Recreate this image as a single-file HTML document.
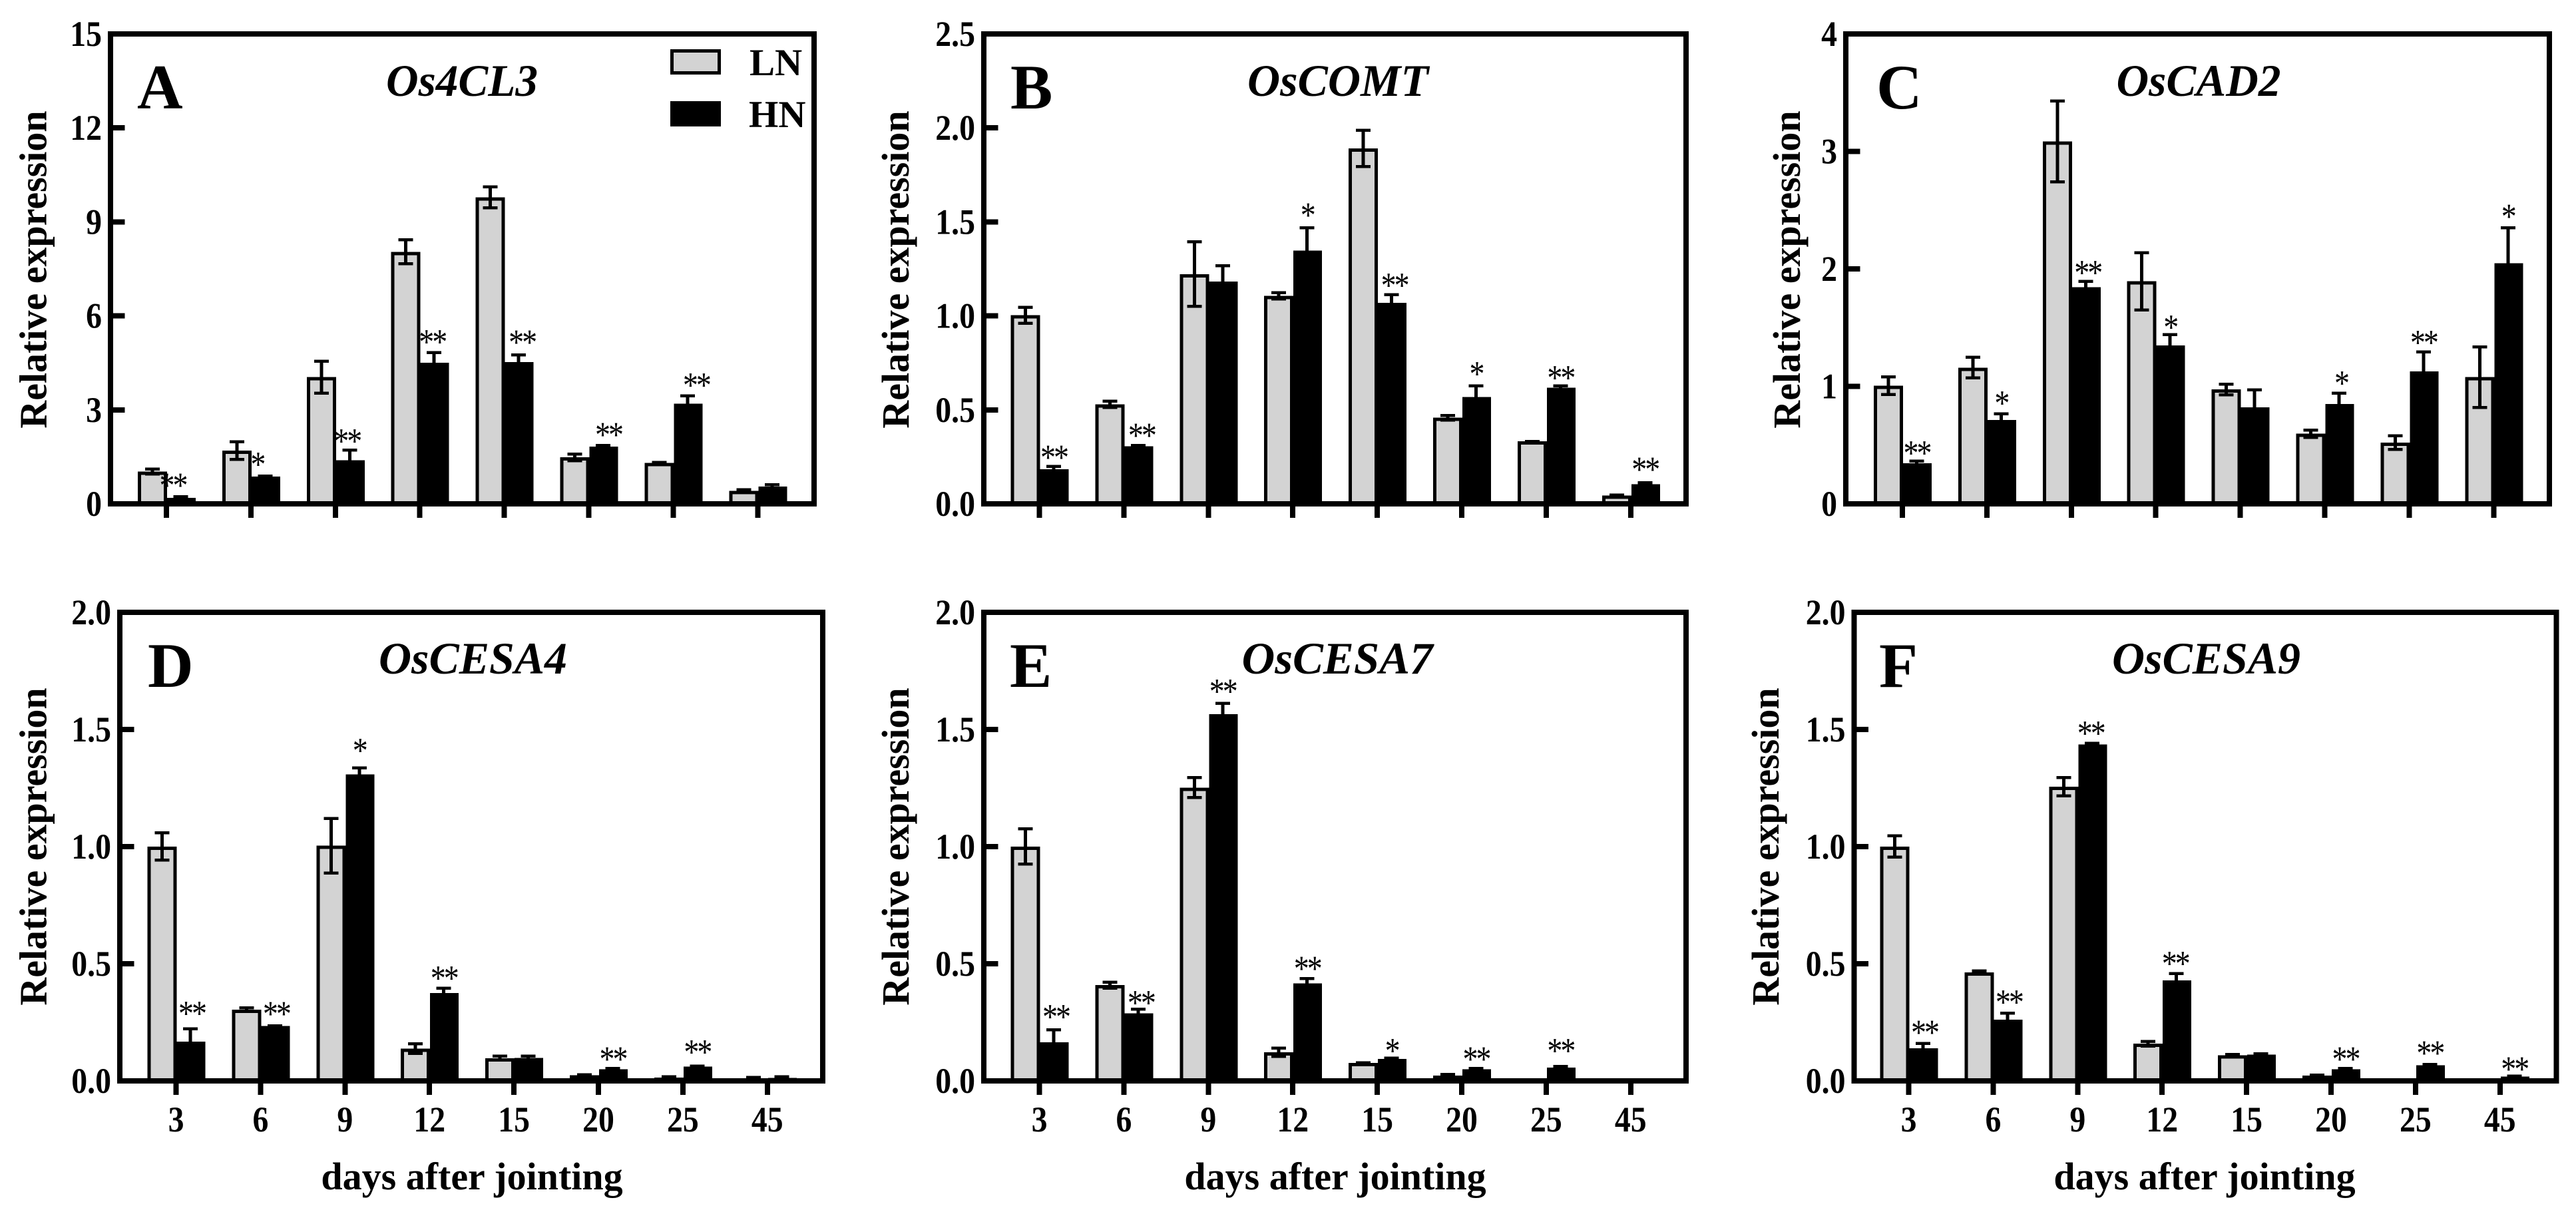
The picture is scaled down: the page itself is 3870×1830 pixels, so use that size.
<!DOCTYPE html>
<html lang="en">
<head>
<meta charset="utf-8">
<title>Relative expression after jointing</title>
<style>
html,body{margin:0;padding:0;background:#fff;}
svg{display:block;}
text{font-family:"Liberation Serif","Times New Roman",serif;fill:#000;}
</style>
</head>
<body>
<svg id="figure" xmlns="http://www.w3.org/2000/svg" width="3870" height="1830" viewBox="0 0 3870 1830"></svg>
<script>
// ---- shared categories and series names
const categories = ['3','6','9','12','15','20','25','45'];
const legendLabels = ['LN','HN'];
const xAxisTitle = 'days after jointing';
const yAxisTitle = 'Relative expression';

// ---- panel A: Os4CL3
const ticksA = ['0','3','6','9','12','15'];
const lnA = [0.99,1.66,4.0,8.0,9.74,1.44,1.26,0.37];
const lnErrA = [0.13,0.33,0.56,0.43,0.38,0.15,0.07,0.01];
const hnA = [0.15,0.83,1.35,4.46,4.48,1.78,3.15,0.51];
const hnErrA = [0.08,0.06,0.37,0.37,0.28,0.09,0.30,0.11];
const sigA = ['**','*','**','**','**','**','**',''];

// ---- panel B: OsCOMT
const ticksB = ['0.0','0.5','1.0','1.5','2.0','2.5'];
const lnB = [0.996,0.522,1.215,1.10,1.884,0.451,0.325,0.037];
const lnErrB = [0.05,0.025,0.18,0.025,0.105,0.02,0.008,0.01];
const hnB = [0.177,0.299,1.175,1.341,1.063,0.561,0.61,0.098];
const hnErrB = [0.023,0.012,0.093,0.129,0.051,0.067,0.018,0.016];
const sigB = ['**','**','','*','**','*','**','**'];

// ---- panel C: OsCAD2
const ticksC = ['0','1','2','3','4'];
const lnC = [0.995,1.148,3.073,1.883,0.963,0.585,0.51,1.067];
const lnErrC = [0.088,0.10,0.357,0.257,0.058,0.043,0.072,0.27];
const hnC = [0.335,0.702,1.834,1.337,0.81,0.839,1.115,2.036];
const hnErrC = [0.03,0.065,0.062,0.104,0.162,0.104,0.179,0.315];
const sigC = ['**','*','**','*','','*','**','*'];

// ---- panel D: OsCESA4
const ticksD = ['0.0','0.5','1.0','1.5','2.0'];
const lnD = [0.995,0.298,0.998,0.132,0.091,0.019,0.008,0.005];
const lnErrD = [0.064,0.014,0.123,0.027,0.015,0.005,0.002,0.002];
const hnD = [0.162,0.229,1.302,0.369,0.093,0.044,0.056,0.007];
const hnErrD = [0.061,0.007,0.035,0.027,0.013,0.003,0.008,0.001];
const sigD = ['**','**','*','**','','**','**',''];

// ---- panel E: OsCESA7
const ticksE = ['0.0','0.5','1.0','1.5','2.0'];
const lnE = [0.995,0.403,1.246,0.116,0.071,0.017,0.003,0.002];
const lnErrE = [0.081,0.019,0.049,0.024,0.007,0.002,0,0];
const hnE = [0.159,0.283,1.56,0.411,0.088,0.044,0.051,0.002];
const hnErrE = [0.06,0.024,0.052,0.027,0.01,0.003,0.001,0];
const sigE = ['**','**','**','**','*','**','**',''];

// ---- panel F: OsCESA9
const ticksF = ['0.0','0.5','1.0','1.5','2.0'];
const lnF = [0.995,0.457,1.25,0.153,0.103,0.017,0.002,0.002];
const lnErrF = [0.052,0.013,0.045,0.016,0.002,0.008,0,0];
const hnF = [0.133,0.256,1.43,0.423,0.106,0.044,0.061,0.013];
const hnErrF = [0.027,0.034,0.012,0.036,0.01,0.003,0.003,0.009];
const sigF = ['**','**','**','**','','**','**','**'];

// ---- layout (kept apart from the data)
const panels = [
 {id:'a',letter:'A',gene:'Os4CL3', ticks:ticksA,yMax:15, ln:lnA,lnErr:lnErrA,hn:hnA,hnErr:hnErrA,sig:sigA,
  left:166,right:1223,top:51,bottom:757,tick0:250,letterX:206,letterY:163,geneX:580,geneW:228,geneY:144,yTitleX:69.5,yTitleY:405,xTitleX:0,
  sigDx:[-12,-12,-4,-3,5,8,13,0],sigGap:[23,23.5,19.5,22.4,25,22,22,0]},
 {id:'b',letter:'B',gene:'OsCOMT', ticks:ticksB,yMax:2.5,ln:lnB,lnErr:lnErrB,hn:hnB,hnErr:hnErrB,sig:sigB,
  left:1478,right:2533,top:51,bottom:757,tick0:1561.5,letterX:1518,letterY:163,geneX:1874,geneW:272,geneY:144,yTitleX:1365,yTitleY:405,xTitleX:0,
  sigDx:[0,5,0,0,4,0,0,0],sigGap:[19.5,21,0,25,20,24,18,26]},
 {id:'c',letter:'C',gene:'OsCAD2', ticks:ticksC,yMax:4,  ln:lnC,lnErr:lnErrC,hn:hnC,hnErr:hnErrC,sig:sigC,
  left:2773,right:3830,top:51,bottom:757,tick0:2858,letterX:2819,letterY:163,geneX:3179.5,geneW:247,geneY:144,yTitleX:2704,yTitleY:405,xTitleX:0,
  sigDx:[0,0,3,0,0,3,0,0],sigGap:[18,22,19,17,0,21,20,23]},
 {id:'d',letter:'D',gene:'OsCESA4',ticks:ticksD,yMax:2,  ln:lnD,lnErr:lnErrD,hn:hnD,hnErr:hnErrD,sig:sigD,
  left:180,right:1236,top:920,bottom:1624,tick0:264.5,letterX:222,letterY:1032,geneX:569,geneW:283,geneY:1012,yTitleX:69.5,yTitleY:1272,xTitleX:709,
  sigDx:[2,2,0,0,0,0,0,0],sigGap:[29,24,32,21,0,22.5,27,0]},
 {id:'e',letter:'E',gene:'OsCESA7',ticks:ticksE,yMax:2,  ln:lnE,lnErr:lnErrE,hn:hnE,hnErr:hnErrE,sig:sigE,
  left:1478,right:2533,top:920,bottom:1624,tick0:1561.5,letterX:1517,letterY:1032,geneX:1865.5,geneW:287,geneY:1012,yTitleX:1365,yTitleY:1272,xTitleX:2006,
  sigDx:[3,4,0,0,0,0,0,0],sigGap:[25.5,15.5,24,21,17,22.5,33,0]},
 {id:'f',letter:'F',gene:'OsCESA9',ticks:ticksF,yMax:2,  ln:lnF,lnErr:lnErrF,hn:hnF,hnErr:hnErrF,sig:sigF,
  left:2785.5,right:3840.5,top:920,bottom:1624,tick0:2867.5,letterX:2823,letterY:1032,geneX:3173,geneW:283,geneY:1012,yTitleX:2672,yTitleY:1272,xTitleX:3312,
  sigDx:[2,2,-2,-2,0,0,0,0],sigGap:[22.5,22.5,21,21,0,22.5,25.5,16.5]}
];
const catStep = 126.9;
const markLift = 2;
const NS = 'http://www.w3.org/2000/svg';
const svg = document.getElementById('figure');

function mk(parent, tag, attrs, txt){
  const el = document.createElementNS(NS, tag);
  for (const k in attrs) el.setAttribute(k, attrs[k]);
  if (txt !== undefined) el.textContent = txt;
  parent.appendChild(el);
  return el;
}

panels.forEach(function(p){
  const g = mk(svg, 'g', {});
  
  

  const yScale = function(v){ return p.bottom - (v / p.yMax) * (p.bottom - p.top); };
  const markY = function(v){ return yScale(v) - markLift; };
  const xScale = function(i){ return p.tick0 + i * catStep; };

  // bars + error bars
  categories.forEach(function(cat, i){
    const t = xScale(i);
    const base = p.bottom;

    // LN bar: stroked box whose outer edge sits on the value
    const lnTop = markY(p.ln[i]);
    const lnBar = mk(g, 'rect', {x:t-43+2.5, y:lnTop+2.5, width:39, height:Math.max(0, base-lnTop-2.5), fill:'#d3d3d3', stroke:'#000', 'stroke-width':5, 'shape-rendering':'crispEdges'});
    
    

    // HN bar
    const hnTop = markY(p.hn[i]);
    const hnBar = mk(g, 'rect', {x:t+1, y:hnTop, width:43, height:Math.max(0, base-hnTop), fill:'#000', 'shape-rendering':'crispEdges'});
    
    

    // error bars
    [[t-21, p.ln[i], p.lnErr[i], 'ln'], [t+21.5, p.hn[i], p.hnErr[i], 'hn']].forEach(function(e){
      if (e[2] <= 0) return;
      const hi = markY(e[1] + e[2]);
      const lo = markY(Math.max(0, e[1] - e[2]));
      const err = mk(g, 'path', {d:'M'+(e[0]-2.5)+' '+hi+'h5V'+lo+'h-5Z M'+(e[0]-11)+' '+hi+'h22v4.5h-22Z M'+(e[0]-11)+' '+(lo-4.5)+'h22v4.5h-22Z', fill:'#000', 'shape-rendering':'crispEdges'});
      
      
    });

    // significance stars
    if (p.sig[i]) {
      const errTop = markY(p.hn[i] + p.hnErr[i]);
      const cy = errTop - p.sigGap[i] + 1;
      const sx = t + 21.5 + p.sigDx[i];
      const star = mk(g, 'text', {transform:'translate('+sx+','+(cy+25)+') scale(1,1.17)', 'font-size':46, 'letter-spacing':-3, 'text-anchor':'middle'}, p.sig[i]);
      
      
    }
  });

  // frame
  const frame = mk(g, 'rect', {x:p.left, y:p.top, width:p.right-p.left, height:p.bottom-p.top, fill:'none', stroke:'#000', 'stroke-width':8, 'shape-rendering':'crispEdges'});
  
  

  // y ticks & labels
  p.ticks.forEach(function(lbl){
    const v = parseFloat(lbl);
    const y = yScale(v);
    const tk = mk(g, 'rect', {x:p.left, y:y-4, width:21.5, height:8, fill:'#000', 'shape-rendering':'crispEdges'});
    
    
    const tl = mk(g, 'text', {transform:'translate('+(p.left-13)+','+(y+18)+') scale(0.885,1)', 'font-size':54, 'font-weight':'bold', 'text-anchor':'end'}, lbl);
    
    
  });

  // x ticks & labels
  categories.forEach(function(cat, i){
    const t = xScale(i);
    const tk = mk(g, 'rect', {x:t-4, y:p.bottom, width:8, height:21, fill:'#000', 'shape-rendering':'crispEdges'});
    
    
    if (p.xTitleX) {
      const tl = mk(g, 'text', {transform:'translate('+t+',1700) scale(0.885,1)', 'font-size':54, 'font-weight':'bold', 'text-anchor':'middle'}, cat);
      
      
    }
  });

  // axis titles
  const yt = mk(g, 'text', {transform:'translate('+p.yTitleX+','+p.yTitleY+') rotate(-90)', 'font-size':58, 'font-weight':'bold', 'text-anchor':'middle'}, yAxisTitle);
  
  
  if (p.xTitleX) {
    const xt = mk(g, 'text', {x:p.xTitleX, y:1787, 'font-size':58, 'font-weight':'bold', 'text-anchor':'middle'}, xAxisTitle);
    
    
  }

  // panel letter + gene title
  const pl = mk(g, 'text', {x:p.letterX, y:p.letterY, 'font-size':95, 'font-weight':'bold'}, p.letter);
  
  
  const gt = mk(g, 'text', {x:p.geneX, y:p.geneY, 'font-size':68, 'font-weight':'bold', 'font-style':'italic', textLength:p.geneW, lengthAdjust:'spacingAndGlyphs'}, p.gene);
  
  
});

// legend (panel A)
const legend = mk(svg, 'g', {});


const swatchLN = mk(legend, 'rect', {x:1009.5, y:76.5, width:71, height:33, fill:'#d3d3d3', stroke:'#000', 'stroke-width':5, 'shape-rendering':'crispEdges'});


const labelLN = mk(legend, 'text', {x:1126, y:113, 'font-size':57, 'font-weight':'bold'}, legendLabels[0]);


const swatchHN = mk(legend, 'rect', {x:1007, y:152, width:76, height:38, fill:'#000', 'shape-rendering':'crispEdges'});


const labelHN = mk(legend, 'text', {x:1125, y:191, 'font-size':57, 'font-weight':'bold'}, legendLabels[1]);


</script>
</body>
</html>
